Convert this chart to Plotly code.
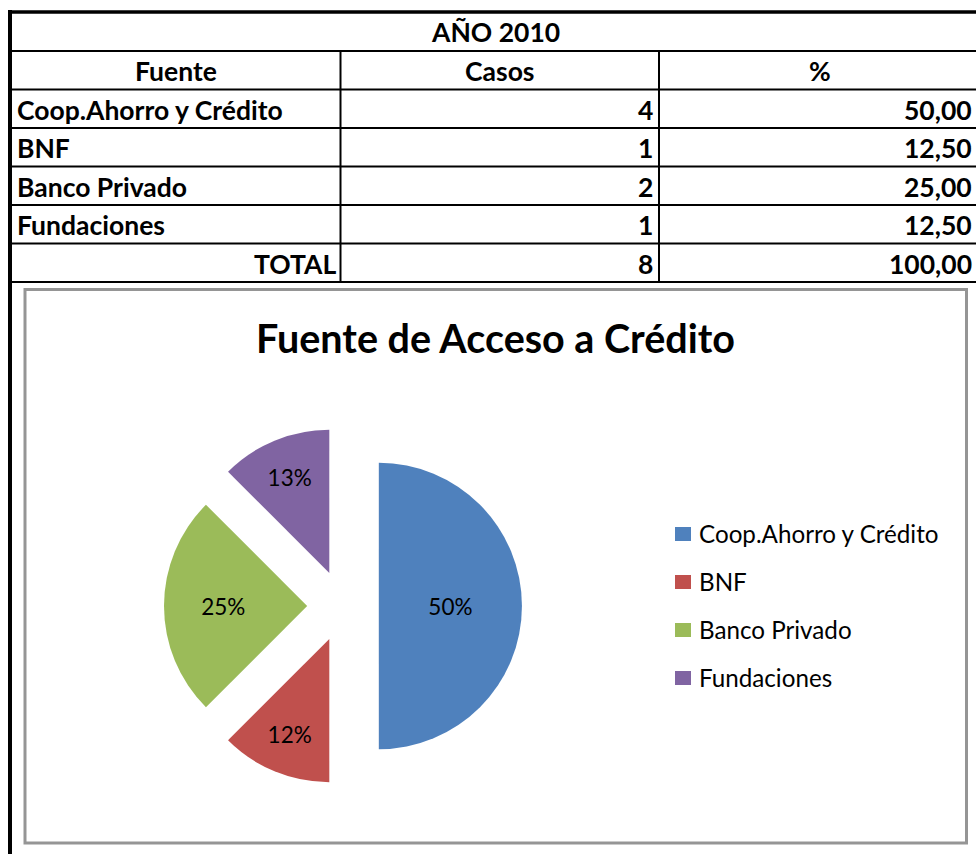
import plotly.graph_objects as go

W, H = 976, 854

# ---------------- data ----------------
year_label = "AÑO 2010"
header = ["Fuente", "Casos", "%"]
fuentes = ["Coop.Ahorro y Crédito", "BNF", "Banco Privado", "Fundaciones"]
casos = [4, 1, 2, 1]
porcentajes = ["50,00", "12,50", "25,00", "12,50"]
total_label = "TOTAL"
total_casos = 8
total_pct = "100,00"
pie_text = ["50%", "12%", "25%", "13%"]
colors = ["#4F81BD", "#C0504D", "#9BBB59", "#8064A2"]
chart_title = "Fuente de Acceso a Crédito"

FONT = "Lato"


def px(x):
    return x / W


def py(y):
    return 1 - y / H


shapes = []
annotations = []


def hline(y, x0, x1, w=2, color="black"):
    shapes.append(dict(type="line", xref="paper", yref="paper",
                       x0=px(x0), x1=px(x1), y0=py(y), y1=py(y),
                       line=dict(color=color, width=w)))


def vline(x, y0, y1, w=2, color="black"):
    shapes.append(dict(type="line", xref="paper", yref="paper",
                       x0=px(x), x1=px(x), y0=py(y0), y1=py(y1),
                       line=dict(color=color, width=w)))


def text(s, x, y, anchor="center", size=26.5, bold=True, color="black"):
    annotations.append(dict(text=f"<b>{s}</b>" if bold else s,
                            x=px(x), y=py(y), xref="paper", yref="paper",
                            xanchor=anchor, yanchor="middle", showarrow=False,
                            font=dict(family=FONT, size=size, color=color)))


# ---------------- table ----------------
row_lines = [51, 89.5, 128, 166.5, 205, 243.5, 282]
col_x = [11, 340.5, 659, 981]
hline(12, 8, 990, w=3.5)
for y in row_lines:
    hline(y, 10, 990, w=2)
vline(10, 10, 860, w=4)
for x in col_x[1:3]:
    vline(x, row_lines[0], row_lines[-1], w=2)

tops = [12] + row_lines
centers = [(tops[i] + tops[i + 1]) / 2 + 1 for i in range(len(tops) - 1)]

text(year_label, 495, centers[0])
for i, h in enumerate(header):
    text(h, (col_x[i] + col_x[i + 1]) / 2, centers[1])
for i, f in enumerate(fuentes):
    cy = centers[2 + i]
    text(f, 15, cy, anchor="left")
    text(str(casos[i]), 655, cy, anchor="right")
    text(porcentajes[i], 974, cy, anchor="right")
text(total_label, 338, centers[-1], anchor="right")
text(str(total_casos), 655, centers[-1], anchor="right")
text(total_pct, 974, centers[-1], anchor="right")

# chart frame
shapes.append(dict(type="rect", xref="paper", yref="paper",
                   x0=px(25), x1=px(966.5), y0=py(289.5), y1=py(843),
                   line=dict(color="#959595", width=3)))

# title
text(chart_title, 495, 337, size=39.5)

# custom legend
for i, f in enumerate(fuentes):
    cy = 534 + 48 * i
    shapes.append(dict(type="rect", xref="paper", yref="paper",
                       x0=px(675), x1=px(691), y0=py(cy - 7), y1=py(cy + 7),
                       line=dict(width=0), fillcolor=colors[i]))
    text(f, 697, cy - 1, anchor="left", size=24.2, bold=False)

# ---------------- pie ----------------
cx, cy, half = 343, 606, 179
fig = go.Figure(go.Pie(
    labels=fuentes, values=casos, text=pie_text, textinfo="text",
    sort=False, direction="clockwise", rotation=0, pull=0.25,
    marker=dict(colors=colors, line=dict(width=0)),
    textposition="inside", insidetextorientation="horizontal",
    textfont=dict(family=FONT, size=22.5, color="black"),
    domain=dict(x=[px(cx - half), px(cx + half)], y=[py(cy + half), py(cy - half)]),
    showlegend=False, hoverinfo="label+value+percent",
))

fig.update_layout(
    width=W, height=H, autosize=False,
    margin=dict(l=0, r=0, t=0, b=0),
    paper_bgcolor="white", plot_bgcolor="white",
    shapes=shapes, annotations=annotations,
    showlegend=False,
)

fig.write_html(
    "out.html",
    config={"displayModeBar": False},
    post_script="document.body.style.margin='0';document.body.style.padding='0';"
                "document.documentElement.style.overflow='hidden';",
)
